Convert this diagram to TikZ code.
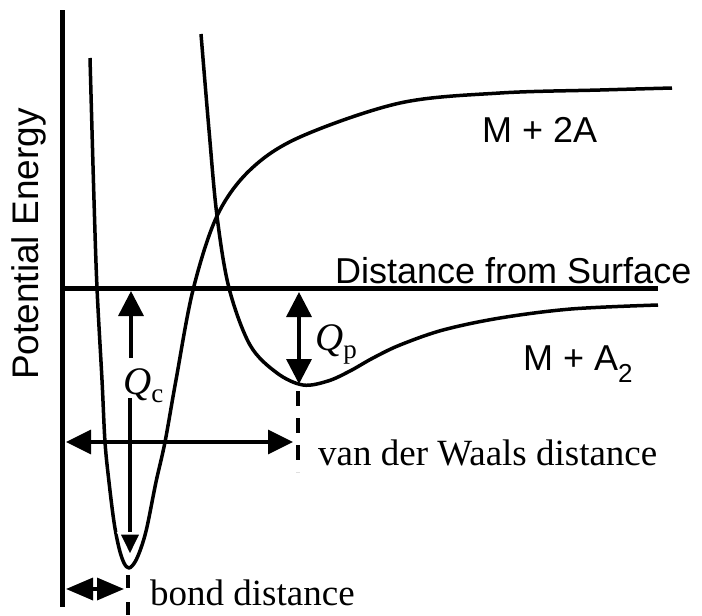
\documentclass[tikz,border=0pt]{standalone}
\usepackage{fontspec}
\setmainfont{Liberation Serif}
\setsansfont{Liberation Sans}
\usetikzlibrary{arrows.meta}
\begin{document}
\begin{tikzpicture}[x=1pt,y=-1pt,line join=round,
  axisline/.style={line width=5pt},
  curveline/.style={line width=3.5pt},
  arrline/.style={line width=3.5pt},
  dashline/.style={line width=3.5pt},
  sanstext/.style={font=\sffamily\fontsize{36}{40}\selectfont,inner sep=0pt},
  seriftext/.style={font=\rmfamily\fontsize{37}{40}\selectfont,inner sep=0pt},
  qtext/.style={font=\rmfamily\fontsize{39}{40}\selectfont,inner sep=0pt}]
\useasboundingbox (0,0) rectangle (702,616);
% axes
\coordinate (ytop) at (62,10);
\coordinate (ybot) at (62,607);
\coordinate (orig) at (60,288);
\coordinate (xend) at (658,288);
\draw[axisline] (ytop) -- (ybot);
\draw[axisline] (orig) -- (xend);
% chemisorption curve (M + 2A)
\draw[curveline] plot[smooth,tension=0.55] coordinates {
 (90,58) (94,200) (97,288) (102,380) (105,442) (109,482) (114,522) (119,548) (124,563) (129,568)
 (135,562) (141,548) (147,527) (156,482) (165,442) (176,380) (193,290) (217,216) (250,170)
 (300,137) (400,103) (500,93) (600,90) (672,88)};
% physisorption curve (M + A2)
\draw[curveline] plot[smooth,tension=0.55] coordinates {
 (201,34) (209,130) (217,216) (229,288) (250,345) (277,373) (303,385) (328,381)
 (350,371) (373,358) (400,345) (443,330) (500,318) (571,309) (658,305)};
% Qp arrow
\coordinate (qpT) at (299,292);
\coordinate (qpB) at (299,384);
\draw[arrline,{Triangle[length=25pt,width=25pt]}-{Triangle[length=25pt,width=25pt]}] (qpB) -- (qpT);
% Qc arrows
\coordinate (qcU1) at (131,358);
\coordinate (qcU2) at (131,291);
\draw[arrline,-{Triangle[length=25pt,width=25pt]}] (qcU1) -- (qcU2);
\coordinate (qcD1) at (130,398);
\coordinate (qcD2) at (130,559);
\draw[arrline,-{Triangle[length=27pt,width=26pt,line width=2.5pt,color=white,fill=black]}] (qcD1) -- (qcD2);
% van der Waals arrow
\coordinate (vdwL) at (66,442);
\coordinate (vdwR) at (293,442);
\draw[arrline,{Triangle[length=25pt,width=24pt]}-{Triangle[length=25pt,width=24pt]}] (vdwL) -- (vdwR);
% bond arrow
\coordinate (bdL) at (66,589);
\coordinate (bdR) at (124,589);
\draw[arrline,{Triangle[length=27pt,width=22pt]}-{Triangle[length=27pt,width=22pt]}] (bdL) -- (bdR);
% dashed markers
\coordinate (vd1) at (298,391);
\coordinate (vd2) at (298,472);
\draw[dashline,dash pattern=on 15pt off 12pt] (vd1) -- (vd2);
\coordinate (bd1) at (128,575);
\coordinate (bd2) at (128,616);
\draw[dashline,dash pattern=on 13pt off 14pt] (bd1) -- (bd2);
% texts
\node[sanstext,font=\sffamily\fontsize{37}{40}\selectfont,rotate=90,anchor=base] (pe) at (38,244) {Potential Energy};
\node[sanstext,anchor=base west] (dfs) at (335,283) {Distance from Surface};
\node[sanstext,anchor=base west] (m2a) at (482,142) {M + 2A};
\node[sanstext,anchor=base west] (ma2) at (523,370) {M + A\raisebox{-12pt}{\fontsize{26}{26}\selectfont 2}};
\node[seriftext,anchor=base west] (vdw) at (318,465) {van der Waals distance};
\node[seriftext,anchor=base west] (bond) at (150,605) {bond distance};
\node[qtext,anchor=base west] (qp) at (315,350) {\itshape Q\raisebox{-8pt}{\upshape\fontsize{27}{27}\selectfont p}};
\node[qtext,anchor=base west] (qc) at (123,394) {\itshape Q\raisebox{-8pt}{\upshape\fontsize{27}{27}\selectfont c}};
\end{tikzpicture}
\end{document}
